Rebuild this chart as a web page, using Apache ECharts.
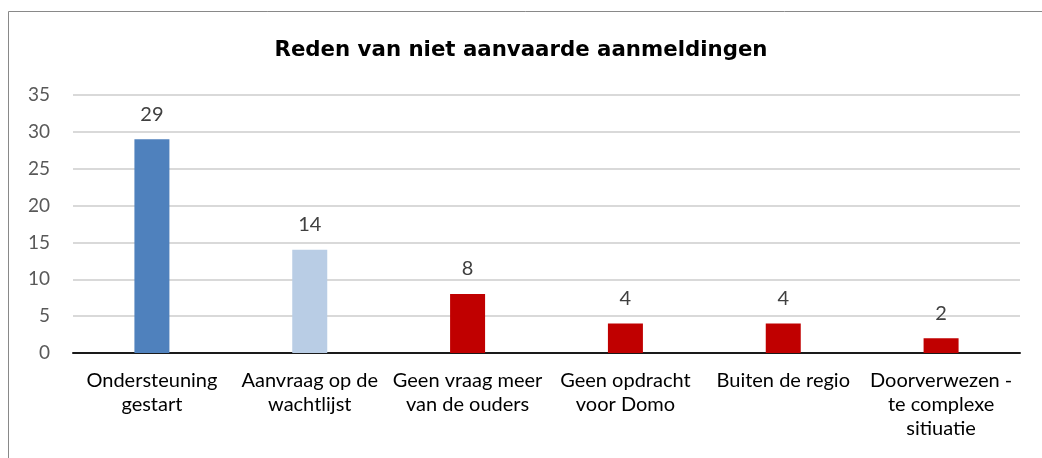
<!DOCTYPE html>
<html><head><meta charset="utf-8">
<script src="https://cdn.jsdelivr.net/npm/echarts@6/dist/echarts.min.js"></script>
<style>html,body{margin:0;padding:0;background:#fff}#c{width:1042px;height:458px}</style>
</head><body><div id="c"></div>
<script>
var categories = ["Ondersteuning\ngestart","Aanvraag op de\nwachtlijst","Geen vraag meer\nvan de ouders","Geen opdracht\nvoor Domo","Buiten de regio","Doorverwezen -\nte complexe\nsitiuatie"];
var values = [29,14,8,4,4,2];
var colors = ["#4F81BD","#B9CDE5","#C00000","#C00000","#C00000","#C00000"];
var title = "Reden van niet aanvaarde aanmeldingen";
var FONT = "Lato";
var chart = echarts.init(document.getElementById('c'), null, {renderer:'canvas'});
chart.setOption({
  animation:false,
  title:{text:title,left:'center',top:35,textStyle:{fontFamily:'DejaVu Sans',fontSize:21.3,fontWeight:'bold',color:'#000'}},
  graphic:[{type:'rect',shape:{x:8.5,y:11.5,width:1200,height:600},style:{fill:'none',stroke:'#898989',lineWidth:1}}],
  grid:{left:73,right:22,top:95,bottom:105,containLabel:false,outerBoundsMode:'none'},
  xAxis:{type:'category',data:categories,
    axisLine:{lineStyle:{color:'#1a1a1a',width:2}},axisTick:{show:false},
    axisLabel:{interval:0,fontFamily:FONT,fontSize:20,color:'#000',lineHeight:24,margin:16}},
  yAxis:{type:'value',min:0,max:35,interval:5,
    axisLine:{show:false},axisTick:{show:false},
    splitLine:{lineStyle:{color:'#d9d9d9',width:2}},
    axisLabel:{fontFamily:FONT,fontSize:19,color:'#595959',margin:23,align:'right'}},
  series:[{type:'bar',barWidth:35,
    data:values.map(function(v,i){return {value:v,itemStyle:{color:colors[i]}};}),
    label:{show:true,position:'top',distance:15,fontFamily:FONT,fontSize:20,color:'#404040'}}]
});
</script></body></html>
